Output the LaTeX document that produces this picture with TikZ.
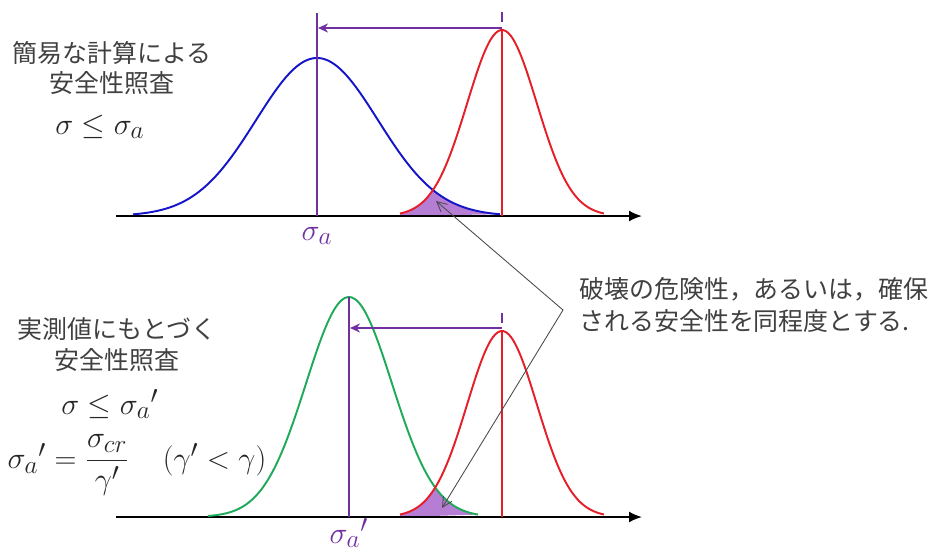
\documentclass[tikz,border=0pt]{standalone}
\usepackage{amsmath}
\usepackage{fontspec}
\newfontfamily\jpfont{Noto Sans CJK JP}
\usetikzlibrary{arrows.meta}
\definecolor{curveblue}{RGB}{20,20,200}
\definecolor{curvered}{RGB}{230,30,40}
\definecolor{curvegreen}{RGB}{30,170,90}
\definecolor{markpurple}{RGB}{112,48,160}
\definecolor{shadepurple}{RGB}{182,125,212}
\definecolor{textgray}{RGB}{64,64,64}

\begin{document}
\begin{tikzpicture}[x=0.02cm,y=-0.02cm]
\tikzset{
  axisline/.style={draw=black,line width=1.1pt,-{Latex[length=2.6mm,width=2.2mm]}},
  curveline/.style={line width=1.1pt,smooth,samples=80},
  meanline/.style={draw=markpurple,line width=1.1pt},
  shiftarrow/.style={draw=markpurple,line width=1.1pt,-{Stealth[length=2mm,width=1.8mm]}},
  calloutline/.style={draw=black!70,line width=0.5pt,{Straight Barb[length=2mm,width=2mm]}-{Straight Barb[length=2mm,width=2mm]}},
  jptext/.style={font=\jpfont\fontsize{14.2}{17.6}\selectfont,text=textgray,align=center,inner sep=0pt},
  mathtext/.style={font=\fontsize{19}{23}\selectfont,text=black!85,inner sep=0pt},
  meanlabel/.style={font=\fontsize{19}{23}\selectfont,text=markpurple,inner sep=0pt}
}
\useasboundingbox (0,0) rectangle (931,552);

% upper panel: simple calculation
\fill[shadepurple] (400,216) -- plot[domain=400:433,samples=30] (\x,{216-186*exp(-0.5*((\x-502)/34.8)^2)})
  -- plot[domain=433:500,samples=30] (\x,{216-158*exp(-0.5*((\x-317)/61)^2)}) -- cycle;
\coordinate (top_ax0) at (116,216);
\coordinate (top_ax1) at (642,216);
\draw[axisline] (top_ax0) -- (top_ax1);
\draw[curveline,curveblue] plot[domain=133:500] (\x,{216-158*exp(-0.5*((\x-317)/61)^2)});
\draw[curveline,curvered] plot[domain=400:604] (\x,{216-186*exp(-0.5*((\x-502)/34.8)^2)});
\coordinate (top_sa_hi) at (317,13);
\coordinate (top_sa) at (317,216);
\coordinate (top_red_peak) at (502,30);
\coordinate (top_red_foot) at (502,216);
\coordinate (top_dash0) at (502,12);
\coordinate (top_dash1) at (502,22);
\coordinate (top_shift0) at (502,28);
\coordinate (top_shift1) at (318,28);
\draw[meanline] (top_sa_hi) -- (top_sa);
\draw[curvered,line width=1.1pt] (top_red_peak) -- (top_red_foot);
\draw[meanline] (top_dash0) -- (top_dash1);
\draw[shiftarrow] (top_shift0) -- (top_shift1);
\node[meanlabel] (top_sa_lbl) at (317,236) {$\sigma_a$};
\node[jptext] (top_title) at (112,68) {簡易な計算による\\安全性照査};
\node[mathtext] (top_check) at (100,127) {$\sigma \le \sigma_a$};

% lower panel: measured values
\fill[shadepurple] (400,517) -- plot[domain=400:435,samples=30] (\x,{517-186*exp(-0.5*((\x-502)/34.8)^2)})
  -- plot[domain=435:478,samples=30] (\x,{517-220*exp(-0.5*((\x-349)/43)^2)}) -- cycle;
\coordinate (bot_ax0) at (116,517);
\coordinate (bot_ax1) at (642,517);
\draw[axisline] (bot_ax0) -- (bot_ax1);
\draw[curveline,curvegreen] plot[domain=208:478] (\x,{517-220*exp(-0.5*((\x-349)/43)^2)});
\draw[curveline,curvered] plot[domain=400:604] (\x,{517-186*exp(-0.5*((\x-502)/34.8)^2)});
\coordinate (bot_sa_hi) at (349,297);
\coordinate (bot_sa) at (349,517);
\coordinate (bot_red_peak) at (502,331);
\coordinate (bot_red_foot) at (502,517);
\coordinate (bot_dash0) at (502,313);
\coordinate (bot_dash1) at (502,323);
\coordinate (bot_shift0) at (502,328);
\coordinate (bot_shift1) at (350,328);
\draw[meanline] (bot_sa_hi) -- (bot_sa);
\draw[curvered,line width=1.1pt] (bot_red_peak) -- (bot_red_foot);
\draw[meanline] (bot_dash0) -- (bot_dash1);
\draw[shiftarrow] (bot_shift0) -- (bot_shift1);
\node[meanlabel] (bot_sa_lbl) at (349,533) {${\sigma_a}'$};
\node[jptext] (bot_title) at (117,345) {実測値にもとづく\\安全性照査};
\node[mathtext] (bot_check) at (110,404) {$\sigma \le {\sigma_a}'$};
\node[mathtext] (bot_def) at (137,465) {${\sigma_a}' = \dfrac{\sigma_{cr}}{\gamma'}\quad(\gamma' < \gamma)$};

% note with callout to both shaded areas
\node[jptext,align=left,anchor=west,font=\jpfont\fontsize{14.2}{18.7}\selectfont] (risk_note) at (579,305)
  {破壊の危険性，あるいは，確保\\される安全性を同程度とする.};
\coordinate (note_apex) at (563,310);
\coordinate (top_risk) at (436,201);
\coordinate (bot_risk) at (442,508);
\draw[calloutline] (top_risk) -- (note_apex) -- (bot_risk);
\end{tikzpicture}
\end{document}
